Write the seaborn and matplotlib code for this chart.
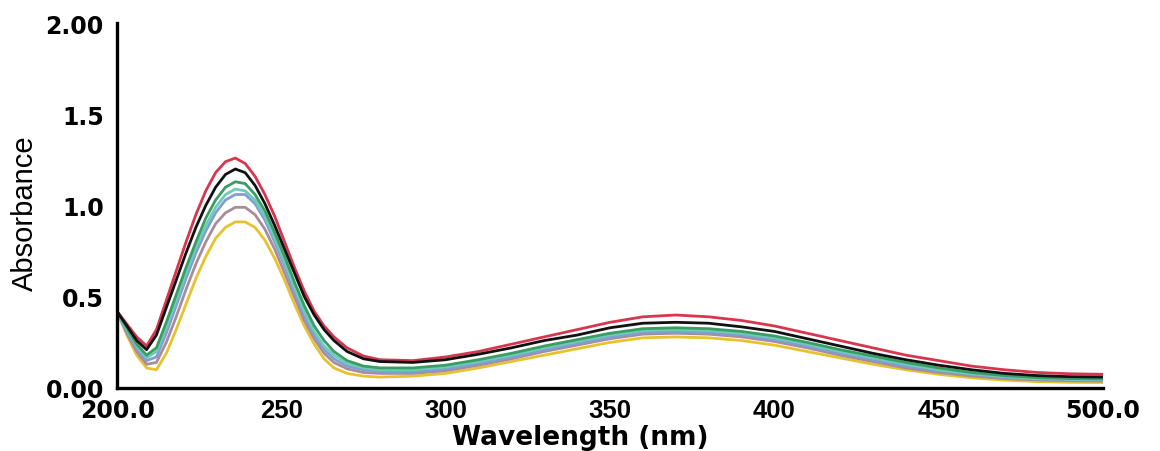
import matplotlib
matplotlib.use("Agg")
import matplotlib.pyplot as plt
import seaborn as sns
import pandas as pd

wavelength = [200, 203, 206, 209, 212, 215, 218, 221, 224, 227, 230, 233, 236, 239, 242, 245,
              248, 251, 254, 257, 260, 263, 266, 270, 275, 280, 290, 300, 310, 320, 330, 340,
              350, 360, 370, 380, 390, 400, 410, 420, 430, 440, 450, 460, 470, 480, 490, 500]

abs_red = [0.42, 0.35, 0.28, 0.23, 0.32, 0.48, 0.64, 0.80, 0.95, 1.08, 1.18, 1.24, 1.26, 1.23, 1.16, 1.06,
           0.94, 0.80, 0.66, 0.53, 0.42, 0.34, 0.28, 0.22, 0.175, 0.155, 0.15, 0.17, 0.20, 0.24, 0.28, 0.32,
           0.36, 0.39, 0.40, 0.39, 0.37, 0.34, 0.30, 0.26, 0.22, 0.18, 0.15, 0.12, 0.10, 0.085, 0.078, 0.075]
abs_black = [0.42, 0.34, 0.26, 0.21, 0.29, 0.44, 0.59, 0.74, 0.88, 1.00, 1.10, 1.17, 1.20, 1.18, 1.11, 1.01,
             0.89, 0.76, 0.63, 0.50, 0.40, 0.32, 0.26, 0.20, 0.16, 0.145, 0.14, 0.155, 0.185, 0.22, 0.26, 0.29,
             0.33, 0.355, 0.36, 0.355, 0.335, 0.31, 0.27, 0.23, 0.19, 0.155, 0.125, 0.10, 0.08, 0.068, 0.062, 0.06]
abs_green = [0.42, 0.33, 0.24, 0.18, 0.22, 0.36, 0.51, 0.66, 0.80, 0.93, 1.03, 1.10, 1.13, 1.12, 1.06, 0.97,
             0.85, 0.72, 0.58, 0.45, 0.34, 0.26, 0.20, 0.15, 0.12, 0.11, 0.11, 0.125, 0.155, 0.19, 0.23, 0.265,
             0.30, 0.325, 0.33, 0.325, 0.31, 0.285, 0.25, 0.21, 0.175, 0.14, 0.11, 0.085, 0.068, 0.057, 0.052, 0.05]
abs_teal = [0.42, 0.32, 0.23, 0.165, 0.20, 0.33, 0.48, 0.63, 0.77, 0.89, 0.99, 1.06, 1.09, 1.08, 1.03, 0.94,
            0.82, 0.69, 0.55, 0.42, 0.31, 0.23, 0.18, 0.135, 0.11, 0.10, 0.10, 0.115, 0.145, 0.18, 0.22, 0.255,
            0.29, 0.315, 0.32, 0.315, 0.30, 0.275, 0.24, 0.20, 0.165, 0.13, 0.10, 0.078, 0.062, 0.052, 0.048, 0.046]
abs_blue = [0.42, 0.31, 0.22, 0.15, 0.17, 0.30, 0.45, 0.60, 0.74, 0.86, 0.96, 1.03, 1.06, 1.06, 1.01, 0.92,
            0.80, 0.67, 0.53, 0.40, 0.29, 0.21, 0.16, 0.12, 0.10, 0.09, 0.09, 0.105, 0.135, 0.17, 0.21, 0.245,
            0.28, 0.305, 0.31, 0.305, 0.29, 0.265, 0.23, 0.19, 0.155, 0.12, 0.095, 0.074, 0.058, 0.05, 0.046, 0.044]
abs_mauve = [0.42, 0.30, 0.20, 0.13, 0.14, 0.25, 0.39, 0.54, 0.68, 0.80, 0.90, 0.96, 0.99, 0.99, 0.95, 0.87,
             0.76, 0.63, 0.50, 0.37, 0.27, 0.19, 0.14, 0.105, 0.085, 0.08, 0.08, 0.095, 0.125, 0.16, 0.20, 0.235,
             0.27, 0.295, 0.30, 0.295, 0.28, 0.255, 0.22, 0.18, 0.145, 0.11, 0.085, 0.066, 0.052, 0.044, 0.04, 0.038]
abs_yellow = [0.42, 0.29, 0.18, 0.11, 0.10, 0.19, 0.32, 0.46, 0.60, 0.72, 0.82, 0.88, 0.91, 0.91, 0.88, 0.81,
              0.71, 0.59, 0.46, 0.34, 0.24, 0.16, 0.11, 0.08, 0.065, 0.06, 0.065, 0.08, 0.11, 0.145, 0.18, 0.215,
              0.25, 0.275, 0.28, 0.275, 0.26, 0.235, 0.20, 0.165, 0.13, 0.10, 0.075, 0.056, 0.043, 0.035, 0.031, 0.03]

series_names = ["yellow", "mauve", "blue", "teal", "green", "red", "black"]
series_values = [abs_yellow, abs_mauve, abs_blue, abs_teal, abs_green, abs_red, abs_black]
series_colors = ["#e8c22e", "#a88c9c", "#7f9ed8", "#6fcab8", "#3a9e62", "#d8354f", "#111111"]

x_ticks = [200, 250, 300, 350, 400, 450, 500]
x_tick_labels = ["200.0", "250", "300", "350", "400", "450", "500.0"]
y_ticks = [0.0, 0.5, 1.0, 1.5, 2.0]
y_tick_labels = ["0.00", "0.5", "1.0", "1.5", "2.00"]

rows = []
for name, vals in zip(series_names, series_values):
    for w, a in zip(wavelength, vals):
        rows.append({"Wavelength": w, "Absorbance": a, "Sample": name})
df = pd.DataFrame(rows)

sns.set_style("white")
plt.rcParams["text.color"] = "black"
plt.rcParams["xtick.color"] = "black"
plt.rcParams["ytick.color"] = "black"
plt.rcParams["axes.labelcolor"] = "black"

fig = plt.figure(figsize=(11.6, 4.52), dpi=100)
ax = fig.add_axes([117 / 1160, 1 - 389 / 452, (1103 - 117) / 1160, (389 - 24) / 452])

sns.lineplot(data=df, x="Wavelength", y="Absorbance", hue="Sample",
             hue_order=series_names, palette=series_colors, linewidth=2.0,
             legend=False, ax=ax, sort=False)

ax.set_xlim(200, 500)
ax.set_ylim(0, 2.0)

for side in ["top", "right"]:
    ax.spines[side].set_visible(False)
for side in ["left", "bottom"]:
    ax.spines[side].set_linewidth(2.4)
    ax.spines[side].set_color("black")

ax.set_xticks(x_ticks)
ax.set_xticklabels(x_tick_labels)
ax.set_yticks(y_ticks)
ax.set_yticklabels(y_tick_labels)

ax.tick_params(axis="x", direction="out", length=6, width=2.2, colors="black", pad=1.5)
ax.tick_params(axis="y", direction="out", length=8.5, width=2.2, colors="black", pad=1)

for lab in ax.get_yticklabels():
    lab.set_fontfamily("DejaVu Sans")
    lab.set_fontweight("bold")
    lab.set_fontsize(17)
    lab.set_color("black")

for i, lab in enumerate(ax.get_xticklabels()):
    lab.set_color("black")
    if i in (0, len(x_tick_labels) - 1):
        lab.set_fontfamily("DejaVu Sans")
        lab.set_fontweight("bold")
        lab.set_fontsize(17)
    else:
        lab.set_fontfamily(["Liberation Sans Narrow", "Liberation Sans"])
        lab.set_fontweight("bold")
        lab.set_fontsize(18.5)

ax.set_xlabel("Wavelength (nm)", fontfamily="DejaVu Sans", fontweight="bold", fontsize=19,
              color="black")
ax.xaxis.set_label_coords((580 - 117) / 986, -0.098)
ax.set_ylabel("")
fig.text(25 / 1160, 1 - 213 / 452, "Absorbance", rotation=90, ha="center", va="center",
         fontsize=21, color="black", family=["Liberation Sans Narrow", "Liberation Sans"])

fig.savefig("out.png", dpi=100, facecolor="white")
